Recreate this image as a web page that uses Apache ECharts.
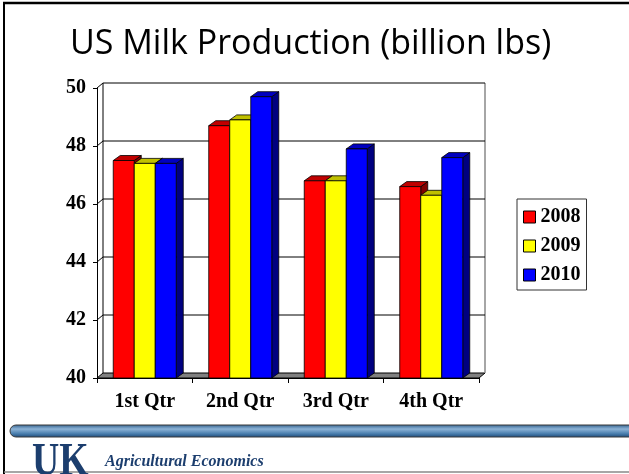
<!DOCTYPE html>
<html>
<head>
<meta charset="utf-8">
<title>US Milk Production</title>
<script src="https://cdn.jsdelivr.net/npm/echarts@6/dist/echarts.min.js"></script>
<style>
  html, body { margin: 0; padding: 0; background: #fff; }
  #chart { width: 629px; height: 474px; }
</style>
</head>
<body>
<div id="chart"></div>
<script>
// Quarterly US milk production, billion lbs
const quarters = ['1st Qtr', '2nd Qtr', '3rd Qtr', '4th Qtr'];
const years = ['2008', '2009', '2010'];
const milk2008 = [47.5, 48.7, 46.8, 46.6];
const milk2009 = [47.4, 48.9, 46.8, 46.3];
const milk2010 = [47.4, 49.7, 47.9, 47.6];
const yTicks = [40, 42, 44, 46, 48, 50];

const Y_MIN = 40, Y_MAX = 50, Y_STEP = 2;
// Perspective offsets of the back wall and bar depth
const WALL_DX = 6, WALL_DY = -5;
const BAR_DX = 7, BAR_DY = -5;

const SERIF = '"Liberation Serif", "Times New Roman", serif';
const faces = [
  { front: '#ff0000', top: '#c00000', side: '#800000' },
  { front: '#ffff00', top: '#c0c000', side: '#808000' },
  { front: '#0000ff', top: '#0000c0', side: '#000080' }
];
const seriesValues = [milk2008, milk2009, milk2010];

function barRenderer(idx) {
  const f = faces[idx];
  return function (params, api) {
    const c = api.value(0);
    const v = api.value(1);
    const top = api.coord([c, v]);
    const base = api.coord([c, Y_MIN]);
    const band = api.size([1, 0])[0];
    const w = band * 0.22;
    const x0 = top[0] - 1.5 * w + idx * w;
    const x1 = x0 + w;
    const stroke = { stroke: '#000', lineWidth: 0.8 };
    return {
      type: 'group',
      children: [
        {
          type: 'polygon',
          shape: { points: [[x1, top[1]], [x1 + BAR_DX, top[1] + BAR_DY], [x1 + BAR_DX, base[1] + BAR_DY], [x1, base[1]]] },
          style: Object.assign({ fill: f.side }, stroke)
        },
        {
          type: 'polygon',
          shape: { points: [[x0, top[1]], [x1, top[1]], [x1 + BAR_DX, top[1] + BAR_DY], [x0 + BAR_DX, top[1] + BAR_DY]] },
          style: Object.assign({ fill: f.top }, stroke)
        },
        {
          type: 'rect',
          shape: { x: x0, y: top[1], width: w, height: base[1] - top[1] },
          style: Object.assign({ fill: f.front }, stroke)
        }
      ]
    };
  };
}

// Back wall gridlines, left wall and floor of the 3-D plot box
function wallRenderer(params, api) {
  const cs = params.coordSys;
  const left = cs.x, right = cs.x + cs.width;
  const v = api.value(1);
  const y = api.coord([0, v])[1];
  const children = [];
  if (v === Y_MIN) {
    const yTop = api.coord([0, Y_MAX])[1];
    children.push({
      type: 'polygon',
      shape: { points: [[left, y], [right, y], [right + WALL_DX, y + WALL_DY], [left + WALL_DX, y + WALL_DY]] },
      style: { fill: '#808080', stroke: '#000', lineWidth: 1 }
    });
    children.push({
      type: 'polyline',
      shape: { points: [[left + WALL_DX, yTop + WALL_DY], [left + WALL_DX, y + WALL_DY]] },
      style: { stroke: '#000', lineWidth: 1, fill: null }
    });
    children.push({
      type: 'polyline',
      shape: { points: [[right + WALL_DX, yTop + WALL_DY], [right + WALL_DX, y + WALL_DY]] },
      style: { stroke: '#888', lineWidth: 1.5, fill: null }
    });
  } else {
    children.push({
      type: 'polyline',
      shape: { points: [[left, y], [left + WALL_DX, y + WALL_DY], [right + WALL_DX, y + WALL_DY]] },
      style: { stroke: '#000', lineWidth: 1, fill: null }
    });
  }
  return { type: 'group', children: children };
}

const chart = echarts.init(document.getElementById('chart'), null, { renderer: 'canvas' });

const series = [{
  name: 'walls',
  type: 'custom',
  z: 1,
  silent: true,
  renderItem: wallRenderer,
  data: yTicks.map(v => [0, v]),
  encode: { x: 0, y: 1 }
}];
years.forEach((yr, i) => {
  series.push({
    name: yr,
    type: 'custom',
    z: 2,
    renderItem: barRenderer(i),
    itemStyle: { color: faces[i].front },
    data: seriesValues[i].map((val, q) => [q, val]),
    encode: { x: 0, y: 1 }
  });
});

chart.setOption({
  animation: false,
  backgroundColor: '#fff',
  title: {
    text: 'US Milk Production (billion lbs)',
    left: 70,
    top: 27,
    padding: 0,
    textStyle: { fontFamily: '"Open Sans", sans-serif', fontWeight: 'normal', fontSize: 34, color: '#000' }
  },
  legend: {
    data: years,
    orient: 'vertical',
    left: 517,
    top: 199,
    width: 71,
    padding: [8, 6, 5, 6],
    itemGap: 9,
    itemWidth: 12,
    itemHeight: 12,
    icon: 'rect',
    itemStyle: { borderColor: '#000', borderWidth: 1 },
    borderColor: '#333',
    borderWidth: 1,
    textStyle: { fontFamily: SERIF, fontWeight: 'bold', fontSize: 20, color: '#000', lineHeight: 20 }
  },
  grid: { left: 97, right: 150, top: 88, bottom: 96, containLabel: false },
  xAxis: {
    type: 'category',
    data: quarters,
    boundaryGap: true,
    axisLine: { show: true, lineStyle: { color: '#000', width: 1 } },
    axisTick: { show: true, length: 5, lineStyle: { color: '#000' } },
    axisLabel: { fontFamily: SERIF, fontWeight: 'bold', fontSize: 20, color: '#000', margin: 14 },
    splitLine: { show: false }
  },
  yAxis: {
    type: 'value',
    min: Y_MIN,
    max: Y_MAX,
    interval: Y_STEP,
    axisLine: { show: true, lineStyle: { color: '#000', width: 1 } },
    axisTick: { show: true, length: 4, lineStyle: { color: '#000' } },
    axisLabel: { fontFamily: SERIF, fontWeight: 'bold', fontSize: 20, color: '#000', margin: 11 },
    splitLine: { show: false }
  },
  graphic: [
    // slide frame
    { type: 'line', shape: { x1: 3, y1: 3, x2: 629, y2: 3 }, style: { stroke: '#000', lineWidth: 2.5 } },
    { type: 'line', shape: { x1: 4, y1: 3, x2: 4, y2: 474 }, style: { stroke: '#000', lineWidth: 2 } },
    { type: 'line', shape: { x1: 4, y1: 472, x2: 629, y2: 472 }, style: { stroke: '#888', lineWidth: 1.5 } },
    // footer bar
    {
      type: 'rect',
      shape: { x: 10, y: 425, width: 640, height: 12, r: 6 },
      style: {
        fill: new echarts.graphic.LinearGradient(0, 0, 0, 1, [
          { offset: 0, color: '#2f5f8c' },
          { offset: 0.35, color: '#8db3d6' },
          { offset: 0.7, color: '#4a7fae' },
          { offset: 1, color: '#1b4877' }
        ]),
        stroke: '#3a3a3a',
        lineWidth: 1
      }
    },
    {
      type: 'text',
      x: 32, y: 440,
      scaleX: 0.82,
      style: { text: 'UK', font: 'bold 46px ' + SERIF, fill: '#1c3e6e' }
    },
    {
      type: 'text',
      x: 105, y: 454,
      style: { text: 'Agricultural Economics', font: 'italic bold 16px ' + SERIF, fill: '#1c3e6e' }
    }
  ],
  series: series
});
</script>
</body>
</html>
